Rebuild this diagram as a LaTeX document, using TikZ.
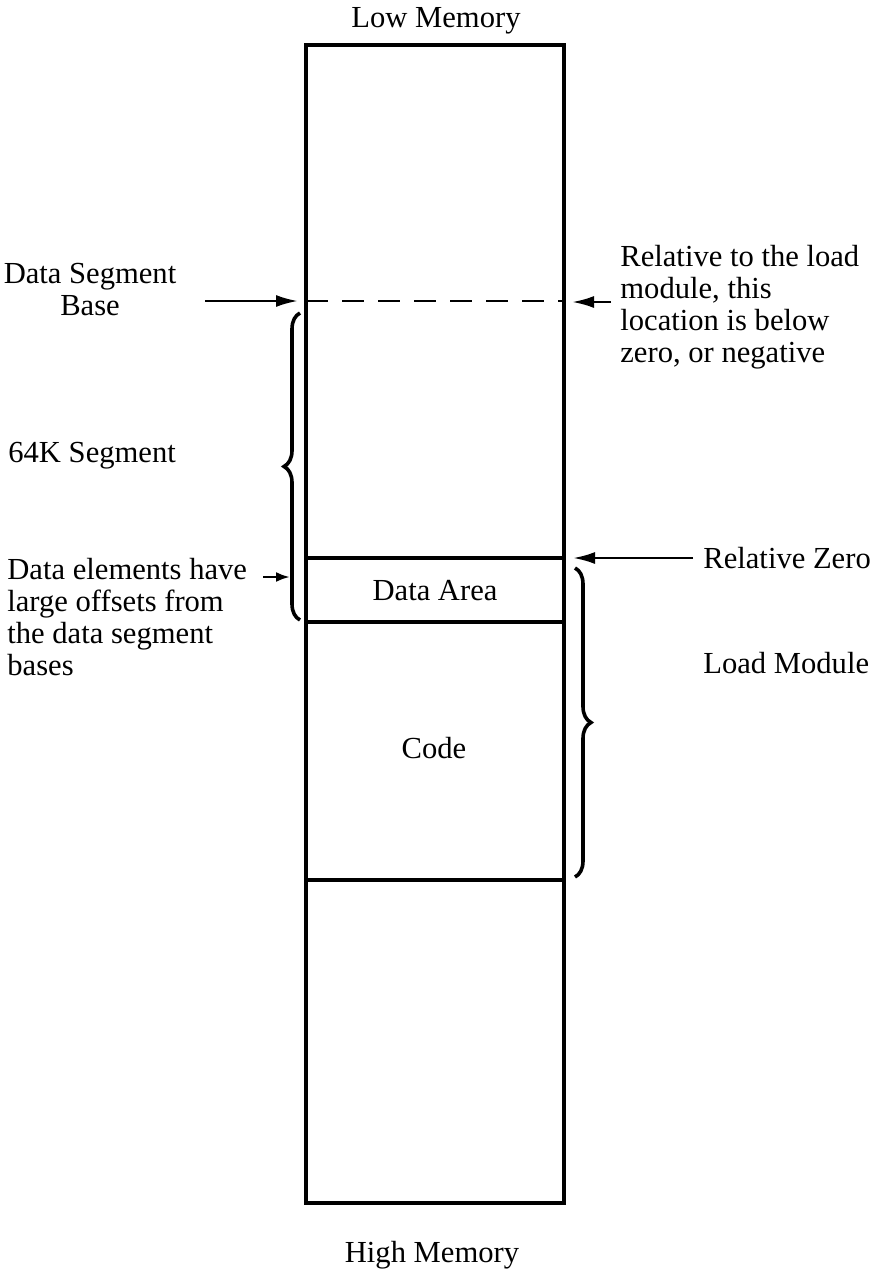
\documentclass[tikz,border=0pt]{standalone}
\usepackage{fontspec}
\setmainfont{Liberation Serif}
\usetikzlibrary{arrows.meta, decorations.pathreplacing}
\tikzset{wall/.style={line width=1.7pt}}
\tikzset{pointer/.style={-{Latex[length=11pt,width=6pt]}, line width=1.3pt}}
\tikzset{short pointer/.style={-{Latex[length=7pt,width=5pt]}, line width=1.3pt}}
\tikzset{caption/.style={font=\fontsize{15.3}{16}\selectfont, inner sep=0pt}}
\tikzset{curly/.style={decorate, decoration={brace, amplitude=8pt}, line width=1.8pt}}

\begin{document}
\begin{tikzpicture}[x=0.5pt, y=-0.5pt]
            \useasboundingbox (0, 0) rectangle (875, 1269);
            % memory column
            \coordinate (topleft) at (306, 45);
            \coordinate (botright) at (564, 1203);
            \draw[wall] (topleft) rectangle (botright);
            \coordinate (baseL) at (306, 301);
            \coordinate (baseR) at (564, 301);
            \coordinate (zeroL) at (306, 558);
            \coordinate (zeroR) at (564, 558);
            \coordinate (areaL) at (306, 622);
            \coordinate (areaR) at (564, 622);
            \coordinate (codeL) at (306, 880);
            \coordinate (codeR) at (564, 880);
            \draw[line width=1.3pt, dash pattern=on 11pt off 7pt] (baseL) -- (baseR);
            \draw[wall] (zeroL) -- (zeroR);
            \draw[wall] (areaL) -- (areaR);
            \draw[wall] (codeL) -- (codeR);
            % texts
            \node[caption, anchor=base] (lowmem) at (436, 27) {Low Memory};
            \node[caption, anchor=base] (highmem) at (432, 1262) {High Memory};
            \node[caption, anchor=base] (dataarea) at (435, 600) {Data Area};
            \node[caption, anchor=base] (code) at (434, 758) {Code};
            \node[caption, anchor=north, align=center] (segbase) at (90, 263) {Data Segment\\Base};
            \node[caption, anchor=base west] (segment) at (8, 462) {64K Segment};
            \node[caption, anchor=north west, align=left] (offsets) at (7, 558) {Data elements have\\large offsets from\\the data segment\\bases};
            \node[caption, anchor=north west, align=left] (negative) at (620, 245) {Relative to the load\\module, this\\location is below\\zero, or negative};
            \node[caption, anchor=base west] (relzero) at (703, 568) {Relative Zero};
            \node[caption, anchor=base west] (loadmod) at (703, 673) {Load Module};
            % braces
            \draw[curly] (300, 620) -- (300, 313);
            \draw[curly] (575, 568) -- (575, 877);
            % arrows
            \coordinate (segtail) at (205, 301);
            \coordinate (segtip) at (298, 301);
            \coordinate (negtail) at (611, 302);
            \coordinate (negtip) at (572, 302);
            \coordinate (zerotail) at (693, 558);
            \coordinate (zerotip) at (573, 558);
            \coordinate (offtail) at (263, 577);
            \coordinate (offtip) at (290, 577);
            \draw[pointer] (segtail) -- (segtip);
            \draw[pointer] (negtail) -- (negtip);
            \draw[pointer] (zerotail) -- (zerotip);
            \draw[short pointer] (offtail) -- (offtip);
        \end{tikzpicture}
\end{document}
